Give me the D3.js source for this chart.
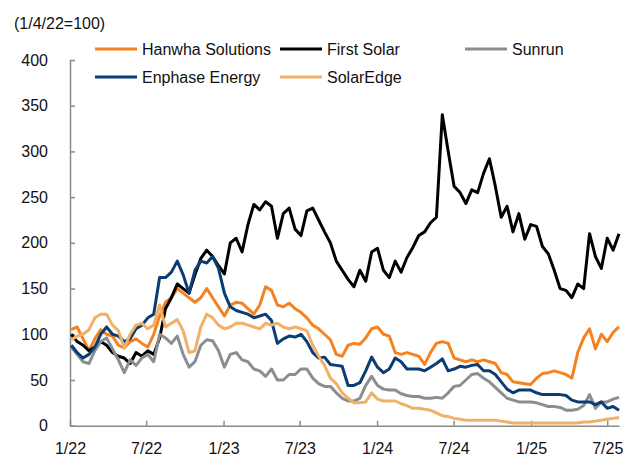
<!DOCTYPE html>
<html lang="en">
<head>
<meta charset="utf-8">
<title>Solar stocks</title>
<script src="https://cdn.jsdelivr.net/npm/d3@7"></script>
<style>
  body { margin: 0; background: #fff; }
  text { font-family: "Liberation Sans", Arial, sans-serif; fill: #111; }
</style>
</head>
<body>
<svg id="chart" width="633" height="461"></svg>
<script>
// sampled every 2 weeks from 1/4/22 to 7/29/25 (94 points)
var dates = d3.timeDay.range(new Date(2022, 0, 4), new Date(2025, 6, 30), 14);

var hanwha = [105,108,95,82,95,105,100,98,88,85,92,95,90,86,100,120,135,140,150,145,140,135,140,
  150,140,130,120,132,135,134,128,122,132,152,148,132,130,134,128,124,118,110,106,100,94,78,
  76,88,90,89,96,106,108,100,98,80,78,80,78,76,67,80,90,92,90,74,72,70,72,70,
  72,70,68,58,56,48,47,46,45,52,57,58,60,58,56,52,80,96,106,84,100,92,102,108];

var firstSolar = [100,92,88,82,86,92,88,80,76,74,68,80,76,82,78,96,128,140,155,150,145,165,183,
  192,185,175,166,200,205,190,220,242,236,245,240,205,232,238,215,208,235,238,225,212,200,180,
  170,160,152,170,158,190,194,170,162,180,168,184,195,208,212,222,228,340,300,262,255,243,258,255,
  276,292,262,228,240,212,232,204,220,218,196,188,170,150,148,140,155,150,210,185,172,205,192,210];

var sunrun = [86,78,70,68,82,92,96,84,72,58,72,66,74,78,70,100,96,90,98,78,64,70,88,
  94,93,82,64,78,80,72,70,62,60,54,62,50,50,56,56,62,62,52,46,43,43,36,
  30,27,27,30,44,54,44,40,39,39,35,33,32,32,30,30,31,30,36,43,44,50,56,57,
  52,48,42,36,30,28,26,26,26,25,23,21,21,20,17,17,18,22,34,19,26,26,29,31];

var enphase = [88,80,74,78,86,100,108,100,98,92,95,106,110,118,122,162,162,168,180,165,145,170,180,
  178,185,172,145,130,126,124,122,118,120,122,115,90,95,98,97,100,92,80,74,75,67,66,
  65,44,44,47,60,75,64,58,62,74,70,62,62,62,60,64,68,73,60,62,65,64,66,67,
  60,60,56,48,40,36,39,39,39,36,34,34,34,34,33,28,26,26,26,23,26,19,21,17];

var solarEdge = [94,98,100,105,118,122,122,110,104,85,100,110,112,106,110,132,108,112,116,104,80,82,108,
  122,118,110,106,108,112,112,110,108,106,112,110,112,108,106,108,106,104,88,76,66,52,46,
  36,30,25,25,26,36,29,27,27,27,24,22,19,19,18,17,14,11,10,8,7,6,6,6,
  6,6,6,5,4,3,3,3,3,3,3,3,3,3,3,3,3,4,4,5,6,7,8,9];

var seriesNames = ["Hanwha Solutions", "First Solar", "Sunrun", "Enphase Energy", "SolarEdge"];
var seriesValues = [hanwha, firstSolar, sunrun, enphase, solarEdge];
var colors = ["#f5821f", "#000000", "#8b8e91", "#0a3d73", "#f2b067"];

var tickDates = [new Date(2022,0,1), new Date(2022,6,1), new Date(2023,0,1), new Date(2023,6,1),
  new Date(2024,0,1), new Date(2024,6,1), new Date(2025,0,1), new Date(2025,6,1)];
var tickLabels = ["1/22","7/22","1/23","7/23","1/24","7/24","1/25","7/25"];
var yTicks = [0,50,100,150,200,250,300,350,400];

var svg = d3.select("#chart");

var x = d3.scaleTime()
  .domain([new Date(2022,0,1), new Date(2025,6,29)])
  .range([70, 619]);

var y = d3.scaleLinear()
  .domain([0, 400])
  .range([425.7, 60]);

var xAxis = svg.append("g")
  .attr("transform", "translate(0," + y(0) + ")")
  .call(d3.axisBottom(x)
    .tickValues(tickDates)
    .tickFormat(function(d, i) { return tickLabels[i]; })
    .tickSizeInner(-5).tickSizeOuter(0).tickPadding(17));

var yAxis = svg.append("g")
  .attr("transform", "translate(" + x(new Date(2022,0,1)) + ",0)")
  .call(d3.axisLeft(y)
    .tickValues(yTicks)
    .tickSizeInner(-5).tickSizeOuter(0).tickPadding(22));

svg.selectAll(".domain, .tick line").attr("stroke", "#8a8a8a").attr("stroke-width", 1.5);
svg.selectAll(".tick text").attr("font-size", "16px").attr("font-family", "Liberation Sans, Arial, sans-serif").attr("fill", "#111");

svg.append("text")
  .attr("x", 14).attr("y", 28.5)
  .attr("font-size", "16px")
  .text("(1/4/22=100)");

var line = d3.line()
  .x(function(d, i) { return x(dates[i]); })
  .y(function(d) { return y(d); });

svg.selectAll("path.series")
  .data(seriesValues)
  .enter().append("path")
  .attr("class", "series")
  .attr("d", line)
  .attr("fill", "none")
  .attr("stroke", function(d, i) { return colors[i]; })
  .attr("stroke-width", 3)
  .attr("stroke-linejoin", "round");

// legend, 3 per row
var legX = [95, 280, 465], legY = [49, 77];
var leg = svg.selectAll("g.leg")
  .data(seriesNames)
  .enter().append("g")
  .attr("class", "leg")
  .attr("transform", function(d, i) { return "translate(" + legX[i % 3] + "," + legY[Math.floor(i / 3)] + ")"; });

leg.append("line")
  .attr("x1", 0).attr("x2", 42)
  .attr("stroke", function(d, i) { return colors[i]; })
  .attr("stroke-width", 3);

leg.append("text")
  .attr("x", 47).attr("y", 6)
  .attr("font-size", "16px")
  .text(function(d) { return d; });
</script>
</body>
</html>
